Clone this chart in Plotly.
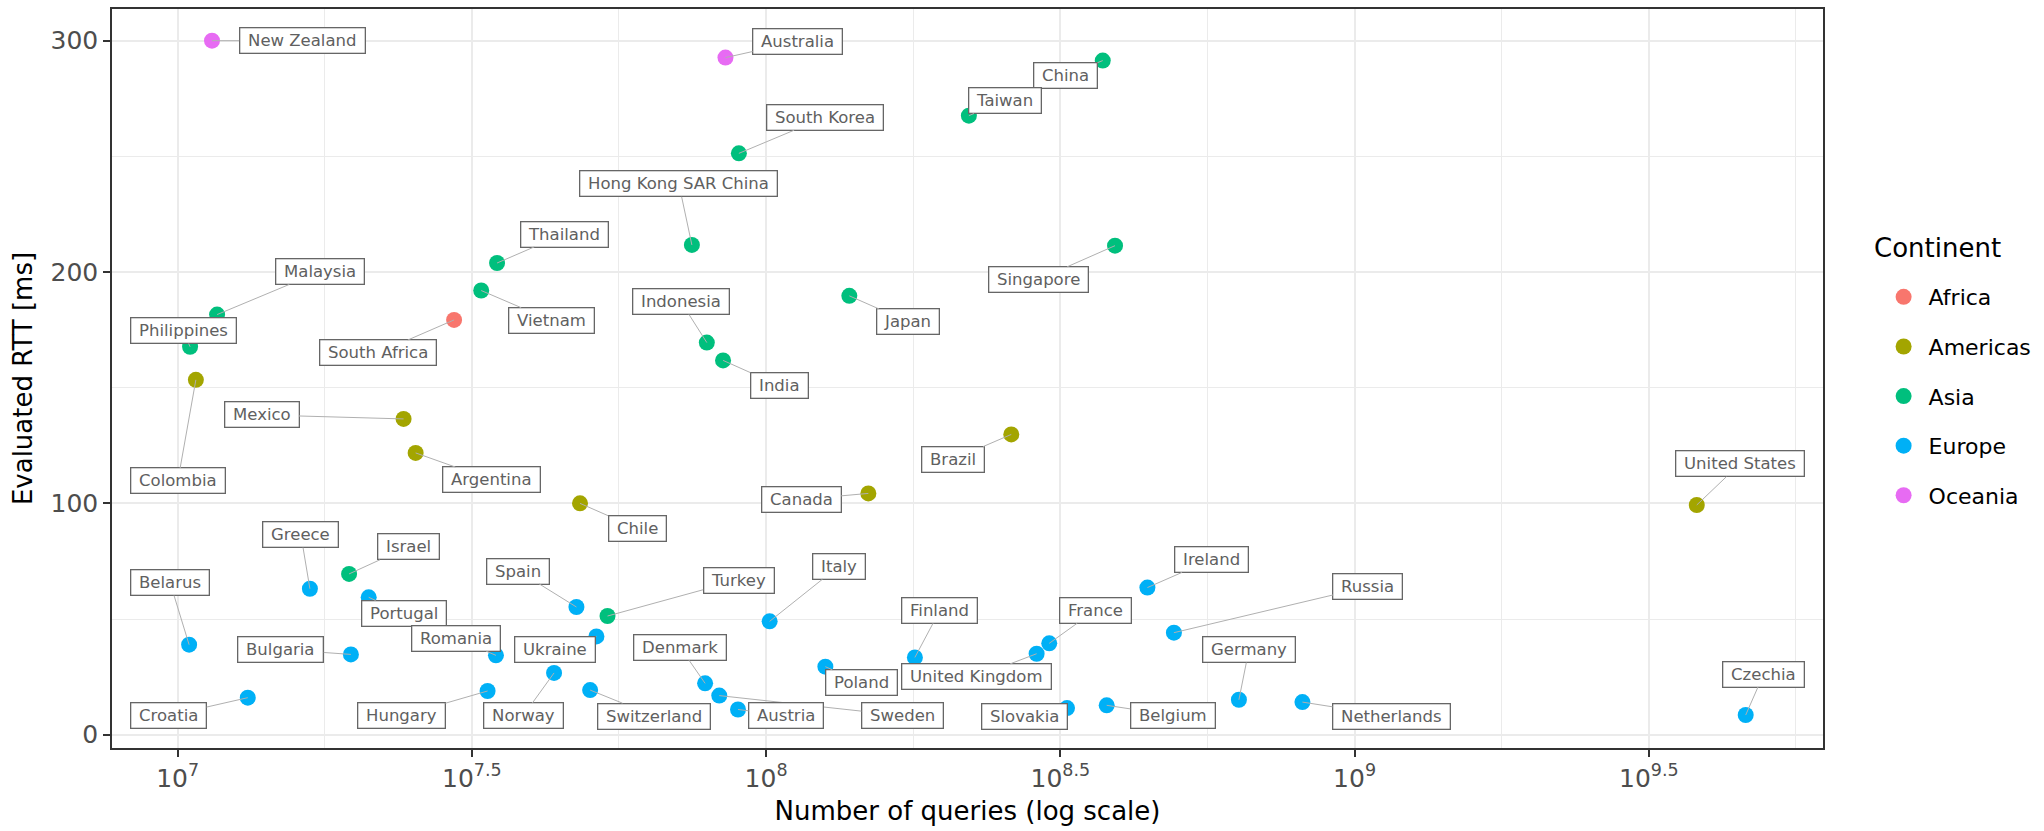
import numpy as np
import plotly.graph_objects as go

# Countries, their continent, query volume and evaluated round-trip time
countries = [
    "New Zealand", "Australia",
    "South Korea", "Hong Kong SAR China", "Thailand", "Vietnam", "Malaysia",
    "Philippines", "Indonesia", "India", "China", "Taiwan", "Singapore", "Japan",
    "Israel", "Turkey",
    "South Africa",
    "Colombia", "Mexico", "Argentina", "Chile", "Brazil", "Canada", "United States",
    "Greece", "Portugal", "Belarus", "Bulgaria", "Croatia", "Spain", "Romania",
    "Ukraine", "Norway", "Hungary", "Switzerland", "Denmark", "Sweden", "Austria",
    "Italy", "Ireland", "Russia", "Finland", "United Kingdom", "France", "Poland",
    "Slovakia", "Belgium", "Germany", "Netherlands", "Czechia",
]
continent = (
    ["Oceania"] * 2
    + ["Asia"] * 14
    + ["Africa"]
    + ["Americas"] * 7
    + ["Europe"] * 26
)
queries = [
    1.144e7, 8.53e7,
    8.99e7, 7.48e7, 3.49e7, 3.28e7, 1.167e7,
    1.050e7, 7.93e7, 8.45e7, 3.733e8, 2.211e8, 3.917e8, 1.385e8,
    1.956e7, 5.377e7,
    2.950e7,
    1.074e7, 2.421e7, 2.538e7, 4.828e7, 2.610e8, 1.492e8, 3.815e9,
    1.678e7, 2.112e7, 1.046e7, 1.970e7, 1.316e7, 4.761e7, 3.475e7,
    5.148e7, 4.362e7, 3.363e7, 5.023e7, 7.877e7, 8.326e7, 8.959e7,
    1.014e8, 4.446e8, 4.932e8, 1.790e8, 2.882e8, 3.028e8, 1.261e8,
    3.246e8, 3.791e8, 6.360e8, 8.154e8, 4.620e9,
]
rtt_ms = [
    300.0, 292.7,
    251.3, 211.7, 203.9, 192.0, 181.6,
    167.7, 169.5, 161.8, 291.4, 267.6, 211.4, 189.7,
    69.5, 51.3,
    179.3,
    153.4, 136.5, 121.8, 100.0, 129.8, 104.3, 99.3,
    63.1, 59.4, 38.9, 34.7, 16.0, 55.2, 34.3,
    42.5, 26.7, 18.9, 19.3, 22.2, 16.9, 10.9,
    49.0, 63.6, 44.1, 33.4, 35.0, 39.5, 29.4,
    11.5, 12.7, 15.1, 14.1, 8.5,
]

continent_order = ["Africa", "Americas", "Asia", "Europe", "Oceania"]
continent_colors = ["#F8766D", "#A3A500", "#00BF7D", "#00B0F6", "#E76BF3"]

# Repelled label placement: pixel offset of each label box from its point
label_offsets = {
    "New Zealand": (90, 0), "Australia": (72, -16), "South Korea": (86, -36),
    "Hong Kong SAR China": (-13, -61), "Thailand": (67, -29), "Vietnam": (70, 30),
    "Malaysia": (103, -43), "Philippines": (-7, -16), "South Africa": (-76, 33),
    "Indonesia": (-26, -41), "India": (56, 25), "Japan": (59, 26),
    "Singapore": (-77, 34), "Taiwan": (36, -15), "China": (-37, 15),
    "Mexico": (-142, -4), "Colombia": (-18, 101), "Argentina": (76, 27),
    "Chile": (57, 25), "Greece": (-9, -54), "Israel": (59, -27),
    "Belarus": (-19, -62), "Portugal": (35, 16), "Spain": (-58, -36),
    "Turkey": (131, -36), "Romania": (-40, -17), "Ukraine": (-41, 13),
    "Bulgaria": (-70, -5), "Croatia": (-79, 18), "Hungary": (-86, 25),
    "Norway": (-31, 43), "Switzerland": (64, 26), "Denmark": (-25, -36),
    "Austria": (48, 6), "Sweden": (183, 20), "Italy": (69, -55),
    "Canada": (-67, 6), "Brazil": (-58, 25), "Poland": (36, 16),
    "Finland": (25, -47), "United Kingdom": (-60, 23), "France": (46, -33),
    "Ireland": (64, -28), "Russia": (194, -46), "Germany": (10, -50),
    "Slovakia": (-43, 8), "Belgium": (66, 10), "Netherlands": (89, 14),
    "United States": (43, -41), "Czechia": (18, -41),
}

x_ticks = [1e7, 10 ** 7.5, 1e8, 10 ** 8.5, 1e9, 10 ** 9.5]
x_ticktext = ["10<sup>7</sup>", "10<sup>7.5</sup>", "10<sup>8</sup>",
              "10<sup>8.5</sup>", "10<sup>9</sup>", "10<sup>9.5</sup>"]
x_minor = [10 ** 7.25, 10 ** 7.75, 10 ** 8.25, 10 ** 8.75, 10 ** 9.25, 10 ** 9.75]
y_ticks = [0, 100, 200, 300]
y_minor = [50, 150, 250]

FONT = "DejaVu Sans"

fig = go.Figure()

for name, color in zip(continent_order, continent_colors):
    idx = [i for i, c in enumerate(continent) if c == name]
    fig.add_trace(go.Scatter(
        x=[queries[i] for i in idx],
        y=[rtt_ms[i] for i in idx],
        text=[countries[i] for i in idx],
        mode="markers",
        name=name,
        legendgroup=name,
        marker=dict(color=color, size=16, line=dict(width=0)),
        hovertemplate="%{text}<br>%{x:.3s} queries<br>%{y:.1f} ms<extra></extra>",
    ))

annotations = []
for name, q, r in zip(countries, queries, rtt_ms):
    ax, ay = label_offsets[name]
    annotations.append(dict(
        x=np.log10(q), y=r, xref="x", yref="y",
        text="\u00a0" + name + "\u00a0",
        showarrow=True, arrowhead=0, arrowwidth=1, arrowcolor="#B0B0B0",
        standoff=0, startstandoff=0,
        ax=ax, ay=ay,
        bgcolor="white", bordercolor="#666666", borderwidth=1.3, borderpad=2.5,
        font=dict(family=FONT, size=16.5, color="#606060"),
    ))

# Legend heading
annotations.append(dict(
    text="Continent", xref="paper", yref="paper",
    x=1.0285, y=0.6766, xanchor="left", yanchor="middle",
    showarrow=False, font=dict(size=26, family=FONT, color="black"),
))

fig.update_layout(
    width=2044, height=831,
    margin=dict(l=112, r=221, t=9, b=83, autoexpand=False),
    paper_bgcolor="white", plot_bgcolor="white",
    font=dict(family=FONT, color="black"),
    annotations=annotations,
    showlegend=True,
    legend=dict(
        font=dict(size=22, family=FONT, color="black"),
        x=1.0325, xanchor="left", y=0.6386, yanchor="top",
        tracegroupgap=18, itemwidth=40,
        bgcolor="rgba(0,0,0,0)",
    ),
    xaxis=dict(
        type="log", range=[6.8885, 9.796],
        tickmode="array", tickvals=x_ticks, ticktext=x_ticktext,
        ticks="outside", ticklen=7, tickwidth=2, tickcolor="#333333",
        tickfont=dict(size=25, color="#4D4D4D", family=FONT),
        showgrid=True, gridcolor="#EBEBEB", gridwidth=2,
        minor=dict(tickmode="array", tickvals=x_minor, showgrid=True,
                   gridcolor="#EBEBEB", gridwidth=1, ticks=""),
        showline=True, mirror=True, linecolor="#333333", linewidth=1.5,
        zeroline=False,
        title=dict(text="Number of queries (log scale)",
                   font=dict(size=26, color="black", family=FONT), standoff=10),
    ),
    yaxis=dict(
        range=[-5.75, 313.7],
        tickmode="array", tickvals=y_ticks,
        ticks="outside", ticklen=7, tickwidth=2, tickcolor="#333333",
        tickfont=dict(size=25, color="#4D4D4D", family=FONT),
        showgrid=True, gridcolor="#EBEBEB", gridwidth=2,
        minor=dict(tickmode="array", tickvals=y_minor, showgrid=True,
                   gridcolor="#EBEBEB", gridwidth=1, ticks=""),
        showline=True, mirror=True, linecolor="#333333", linewidth=1.5,
        zeroline=False,
        title=dict(text="Evaluated RTT [ms]",
                   font=dict(size=26, color="black", family=FONT), standoff=10),
    ),
)

fig.write_html("out.html")
